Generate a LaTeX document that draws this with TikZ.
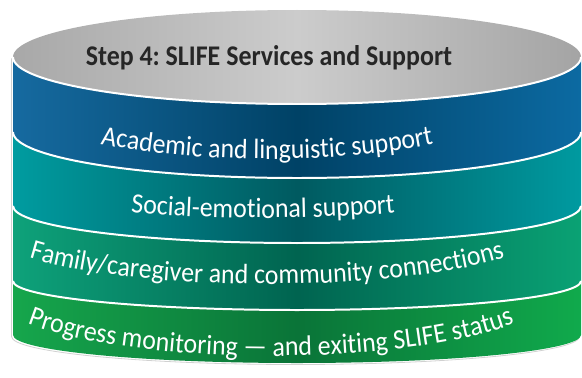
\documentclass[tikz,border=0pt]{standalone}
\usepackage{fontspec}
\setmainfont{Carlito}
\usepackage{graphicx}
\usepackage{tikz}
\usetikzlibrary{decorations.text}
\usepackage{xcolor}
\frenchspacing

% band colours (left / middle / right)
\definecolor{grayL}{RGB}{168,168,168}
\definecolor{grayM}{RGB}{204,204,204}
\definecolor{grayR}{RGB}{164,164,164}
\definecolor{blueL}{RGB}{22,106,160}
\definecolor{blueM}{RGB}{0,66,102}
\definecolor{blueR}{RGB}{12,106,162}
\definecolor{tealL}{RGB}{0,156,160}
\definecolor{tealM}{RGB}{0,90,96}
\definecolor{tealR}{RGB}{0,154,160}
\definecolor{jadeL}{RGB}{14,162,122}
\definecolor{jadeM}{RGB}{0,100,80}
\definecolor{jadeR}{RGB}{10,162,116}
\definecolor{leafL}{RGB}{22,166,76}
\definecolor{leafM}{RGB}{10,116,56}
\definecolor{leafR}{RGB}{16,170,76}
\definecolor{titlegray}{RGB}{38,38,38}

\newcommand{\bandfont}{\fontsize{26}{30}\selectfont}
\newcommand{\tallglyph}[1]{\scalebox{1}[1.08]{#1}}

\begin{document}
\begin{tikzpicture}[x=1bp, y=1bp,
    bandtext/.style={decorate, decoration={text effects along path, text align=center,
        text effects/.cd, text along path, characters={text=white, font=\bandfont, inner sep=0pt},
        character command=\tallglyph}},
    seam/.style={white, line width=2pt},
    titletext/.style={anchor=base, text=titlegray, font=\fontsize{26}{30}\selectfont\bfseries}]
    \useasboundingbox (0,0) rectangle (582,377);

    % shadow outline
    \draw[black!18, line width=0.8pt, xshift=-1.5, yshift=-1.5]
        (13,320) -- (13,42) arc[start angle=180, end angle=360, x radius=284, y radius=28] -- (581,320);

    % bands, bottom to top
    \foreach \ytop/\rtop/\ybot/\rbot/\cl/\cm/\cr in
        {96/29/42/28/leafL/leafM/leafR,
         171/37/96/29/jadeL/jadeM/jadeR,
         245/46/171/37/tealL/tealM/tealR,
         320/47/245/46/blueL/blueM/blueR} {
        \shade[left color=\cl, right color=\cr, middle color=\cm]
            (13,\ytop) -- (13,\ybot) arc[start angle=180, end angle=360, x radius=284, y radius=\rbot]
            -- (581,\ytop) arc[start angle=360, end angle=180, x radius=284, y radius=\rtop] -- cycle;
    }

    % top of the cylinder
    \shade[left color=grayL, right color=grayR, middle color=grayM]
        (297,320) ellipse[x radius=284, y radius=47];

    % white seams
    \foreach \yside/\rr in {320/47, 245/46, 171/37, 96/29} {
        \draw[seam] (13,\yside) arc[start angle=180, end angle=360, x radius=284, y radius=\rr];
    }

    % title
    \node[titletext] (title) at (269,312) {\scalebox{1}[1.1]{Step 4: SLIFE Services and Support}};

    % band texts
    \path[bandtext, decoration={text={Academic and linguistic support}}]
        (-17,296) arc[start angle=180, end angle=360, x radius=284, y radius=78];
    \path[bandtext, decoration={text={Social-emotional support}}]
        (-21,206) arc[start angle=180, end angle=360, x radius=284, y radius=47];
    \path[bandtext, decoration={text={Family/caregiver and community connections}}]
        (-17,151) arc[start angle=180, end angle=360, x radius=284, y radius=58];
    \path[bandtext, decoration={text={Progress monitoring — and exiting SLIFE status}}]
        (-13,88) arc[start angle=180, end angle=360, x radius=284, y radius=67];
\end{tikzpicture}
\end{document}
